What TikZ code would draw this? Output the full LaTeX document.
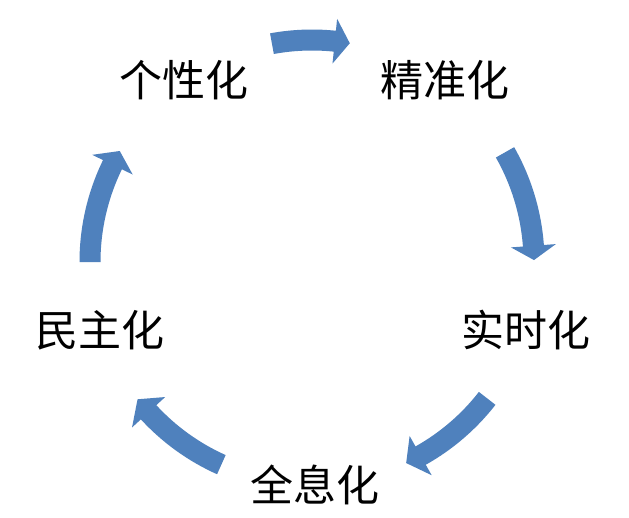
\documentclass[tikz,border=0pt]{standalone}
\usepackage{fontspec}
\newfontfamily\cjk{Noto Sans CJK SC}
\definecolor{arrowblue}{RGB}{79,129,189}
\tikzset{
  lbl/.style={inner sep=0pt, font=\cjk\fontsize{43}{50}\selectfont, text=black},
  cyclearrow/.style={fill=arrowblue, draw=none}
}
% #1 tail angle, #2 head base angle, #3 tip angle
\newcommand{\cycarrow}[3]{%
  \fill[cyclearrow] (#1:211.5pt) arc[start angle=#1, end angle=#2, radius=211.5pt]
    -- (#2:199.5pt) -- (#3:222pt) -- (#2:244.5pt) -- (#2:232.5pt)
    arc[start angle=#2, end angle=#1, radius=232.5pt] -- cycle;}
\begin{document}
\begin{tikzpicture}[x=1pt,y=1pt]
\useasboundingbox[fill=white] (0,0) rectangle (629,-517);
\node[lbl] (gxh) at (183.5,-80) {个性化};
\node[lbl] (jzh) at (444.5,-80) {精准化};
\node[lbl] (ssh) at (525.5,-330) {实时化};
\node[lbl] (qxh) at (314.5,-484.5) {全息化};
\node[lbl] (mzh) at (100,-330) {民主化};
\coordinate (c) at (312,-262);
\begin{scope}[shift={(c)}]
  \cycarrow{100.4}{84.1}{80.2}
  \cycarrow{29.6}{4.2}{0.5}
  \cycarrow{-37.9}{-60.7}{-64.9}
  \cycarrow{-114.1}{-137.4}{-141.8}
  \cycarrow{180}{154}{150}
\end{scope}
\end{tikzpicture}
\end{document}
